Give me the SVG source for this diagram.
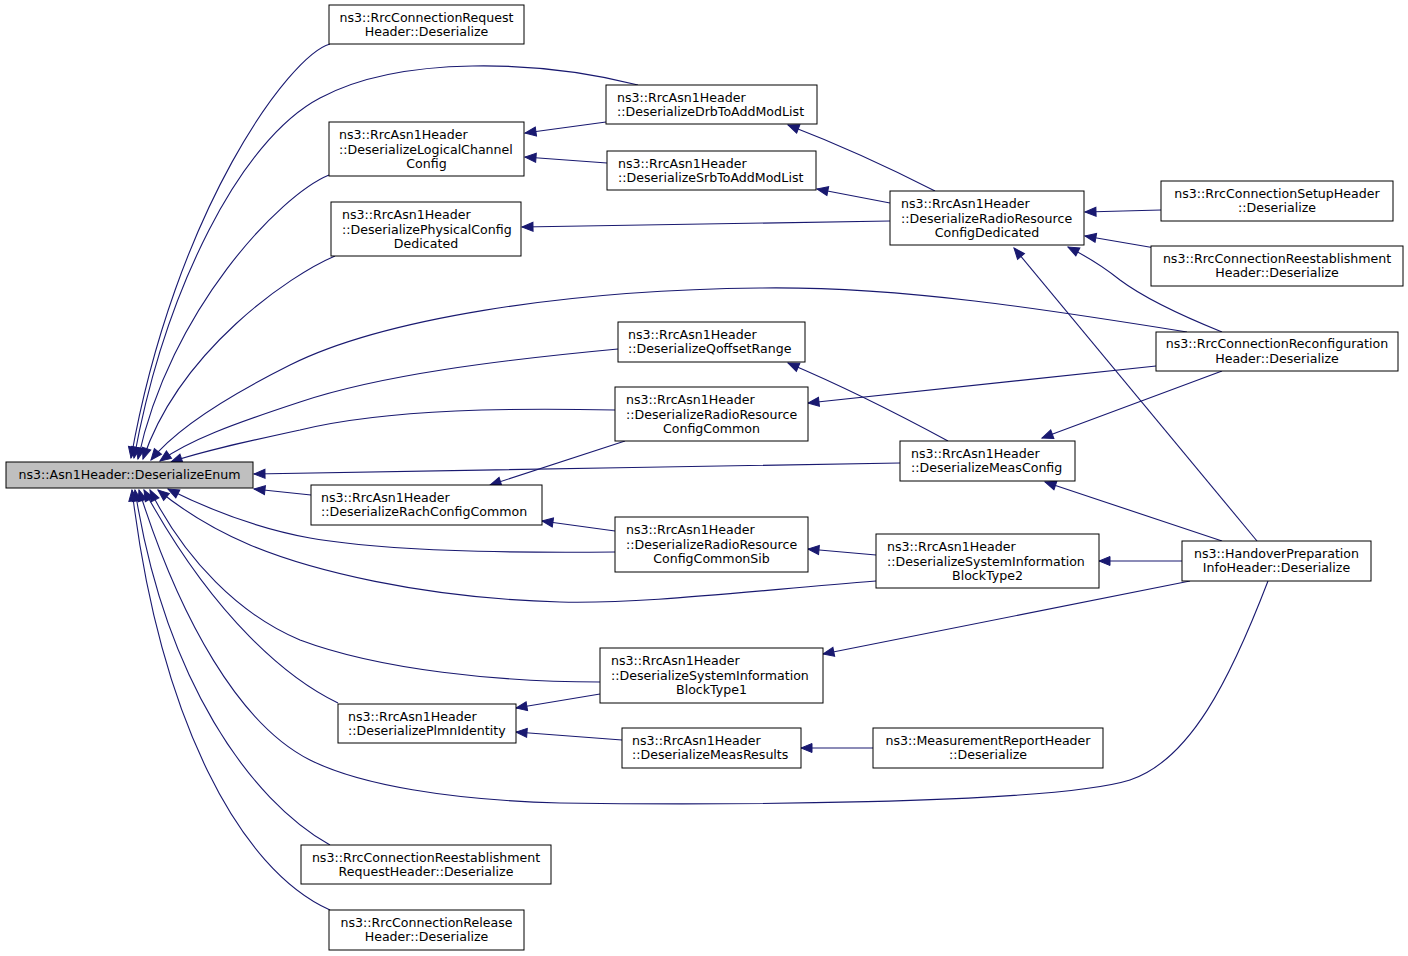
<svg xmlns="http://www.w3.org/2000/svg" width="1408" height="956" viewBox="0 0 1408 956">
<style>
.n rect{fill:#ffffff;stroke:#000000;stroke-width:1}
.n.root rect{fill:#bfbfbf}
.n text{font-family:"DejaVu Sans","Liberation Sans",sans-serif;font-size:12.6px;fill:#000000}
.c text,.m{text-anchor:middle}
.e path{fill:none;stroke:#191970;stroke-width:1.1;marker-end:url(#ah)}
</style>
<defs>
<marker id="ah" markerUnits="userSpaceOnUse" markerWidth="12" markerHeight="10" refX="11" refY="4.5" orient="auto" overflow="visible">
<path d="M0,0 L11,4.5 L0,9 z" fill="#191970" stroke="#191970" stroke-width="1"/>
</marker>
</defs>
<rect width="1408" height="956" fill="#ffffff"/>
<g id="edges" class="e">
<path d="M330,44 C290,55 175,210 131,458"/>
<path d="M638,85 C540,60 400,55 320,98 C240,140 165,290 134,458"/>
<path d="M329,175 C280,195 170,310 138,459"/>
<path d="M335,256 C290,275 180,350 143,459"/>
<path d="M1187,332 C1050,310 900,286 760,288 C560,290 380,320 290,365 C220,400 175,430 151,460"/>
<path d="M618,349 C500,360 380,375 300,402 C230,425 190,440 160,461"/>
<path d="M615,410 C520,408 390,408 300,430 C240,443 200,452 171,462"/>
<path d="M900,463 C700,466 400,472 254,474"/>
<path d="M311,495 L254,489"/>
<path d="M615,552 C520,553 390,552 310,538 C250,527 200,505 168,489"/>
<path d="M876,581 C740,592 640,604 560,602 C420,598 310,570 250,545 C210,528 180,508 158,490"/>
<path d="M600,682 C500,682 380,670 300,640 C240,615 185,560 150,490"/>
<path d="M338,703 C290,680 215,620 144,490"/>
<path d="M1268,581 C1230,680 1190,760 1130,780 C1050,805 700,805 560,803 C450,800 360,785 310,760 C240,725 180,620 139,490"/>
<path d="M330,845 C250,800 165,680 135,490"/>
<path d="M330,910 C240,870 160,720 132,490"/>
<path d="M606,122 L525,133"/>
<path d="M607,163 L525,157"/>
<path d="M935,191 C890,168 840,145 788,125"/>
<path d="M890,203 L817,189"/>
<path d="M890,221 L522,227"/>
<path d="M1161,210 L1085,212"/>
<path d="M1155,248 L1085,236"/>
<path d="M1222,332 C1180,315 1140,295 1120,280 C1105,268 1090,258 1068,247"/>
<path d="M1257,541 L1014,248"/>
<path d="M1156,366 L808,403"/>
<path d="M1222,371 L1042,438"/>
<path d="M948,441 C900,415 840,385 788,363"/>
<path d="M625,441 L490,485"/>
<path d="M615,531 L542,521"/>
<path d="M876,555 L808,549"/>
<path d="M1182,561 L1099,561"/>
<path d="M1222,541 L1045,482"/>
<path d="M1190,581 L823,654"/>
<path d="M600,694 L516,708"/>
<path d="M622,740 L516,732"/>
<path d="M873,748 L801,748"/>
</g>
<g id="n_root" class="n root c"><rect x="6" y="462" width="247" height="26"/><text x="129.5" y="479">ns3::Asn1Header::DeserializeEnum</text></g>
<g id="n_req" class="n c"><rect x="329" y="5" width="195" height="39"/><text x="426.5" y="21.5">ns3::RrcConnectionRequest</text><text x="426.5" y="36">Header::Deserialize</text></g>
<g id="n_drb" class="n"><rect x="606" y="85" width="211" height="39"/><text x="617" y="101.5">ns3::RrcAsn1Header</text><text x="617" y="116">::DeserializeDrbToAddModList</text></g>
<g id="n_lcc" class="n"><rect x="329" y="122" width="195" height="54"/><text x="339" y="139">ns3::RrcAsn1Header</text><text x="339" y="153.5">::DeserializeLogicalChannel</text><text class="m" x="426.5" y="168">Config</text></g>
<g id="n_srb" class="n"><rect x="607" y="151" width="209" height="39"/><text x="618" y="167.5">ns3::RrcAsn1Header</text><text x="618" y="182">::DeserializeSrbToAddModList</text></g>
<g id="n_pcd" class="n"><rect x="331" y="202" width="190" height="54"/><text x="342" y="219">ns3::RrcAsn1Header</text><text x="342" y="233.5">::DeserializePhysicalConfig</text><text class="m" x="426" y="248">Dedicated</text></g>
<g id="n_rrcd" class="n"><rect x="890" y="191" width="194" height="54"/><text x="901" y="208">ns3::RrcAsn1Header</text><text x="901" y="222.5">::DeserializeRadioResource</text><text class="m" x="987" y="237">ConfigDedicated</text></g>
<g id="n_setup" class="n c"><rect x="1161" y="181" width="232" height="40"/><text x="1277" y="197.5">ns3::RrcConnectionSetupHeader</text><text x="1277" y="212">::Deserialize</text></g>
<g id="n_reest" class="n c"><rect x="1151" y="246" width="252" height="40"/><text x="1277" y="262.5">ns3::RrcConnectionReestablishment</text><text x="1277" y="277">Header::Deserialize</text></g>
<g id="n_reconf" class="n c"><rect x="1156" y="332" width="242" height="39"/><text x="1277" y="348">ns3::RrcConnectionReconfiguration</text><text x="1277" y="362.5">Header::Deserialize</text></g>
<g id="n_qoff" class="n"><rect x="618" y="322" width="187" height="40"/><text x="628" y="338.5">ns3::RrcAsn1Header</text><text x="628" y="353">::DeserializeQoffsetRange</text></g>
<g id="n_rrcc" class="n"><rect x="615" y="387" width="193" height="54"/><text x="626" y="404">ns3::RrcAsn1Header</text><text x="626" y="418.5">::DeserializeRadioResource</text><text class="m" x="711.5" y="433">ConfigCommon</text></g>
<g id="n_meas" class="n"><rect x="900" y="441" width="175" height="40"/><text x="911" y="457.5">ns3::RrcAsn1Header</text><text x="911" y="472">::DeserializeMeasConfig</text></g>
<g id="n_rach" class="n"><rect x="311" y="485" width="231" height="40"/><text x="321" y="501.5">ns3::RrcAsn1Header</text><text x="321" y="516">::DeserializeRachConfigCommon</text></g>
<g id="n_rrccs" class="n"><rect x="615" y="517" width="193" height="55"/><text x="626" y="534">ns3::RrcAsn1Header</text><text x="626" y="548.5">::DeserializeRadioResource</text><text class="m" x="711.5" y="563">ConfigCommonSib</text></g>
<g id="n_sib2" class="n"><rect x="876" y="534" width="223" height="54"/><text x="887" y="551">ns3::RrcAsn1Header</text><text x="887" y="565.5">::DeserializeSystemInformation</text><text class="m" x="987.5" y="580">BlockType2</text></g>
<g id="n_ho" class="n c"><rect x="1182" y="541" width="189" height="40"/><text x="1276.5" y="557.5">ns3::HandoverPreparation</text><text x="1276.5" y="572">InfoHeader::Deserialize</text></g>
<g id="n_sib1" class="n"><rect x="600" y="648" width="223" height="55"/><text x="611" y="665">ns3::RrcAsn1Header</text><text x="611" y="679.5">::DeserializeSystemInformation</text><text class="m" x="711.5" y="694">BlockType1</text></g>
<g id="n_plmn" class="n"><rect x="338" y="704" width="178" height="39"/><text x="348" y="720.5">ns3::RrcAsn1Header</text><text x="348" y="735">::DeserializePlmnIdentity</text></g>
<g id="n_mr" class="n"><rect x="622" y="728" width="179" height="40"/><text x="632" y="744.5">ns3::RrcAsn1Header</text><text x="632" y="759">::DeserializeMeasResults</text></g>
<g id="n_mrep" class="n c"><rect x="873" y="728" width="230" height="40"/><text x="988" y="744.5">ns3::MeasurementReportHeader</text><text x="988" y="759">::Deserialize</text></g>
<g id="n_reestreq" class="n c"><rect x="301" y="845" width="250" height="39"/><text x="426" y="861.5">ns3::RrcConnectionReestablishment</text><text x="426" y="876">RequestHeader::Deserialize</text></g>
<g id="n_rel" class="n c"><rect x="329" y="910" width="195" height="40"/><text x="426.5" y="926.5">ns3::RrcConnectionRelease</text><text x="426.5" y="941">Header::Deserialize</text></g>
</svg>
